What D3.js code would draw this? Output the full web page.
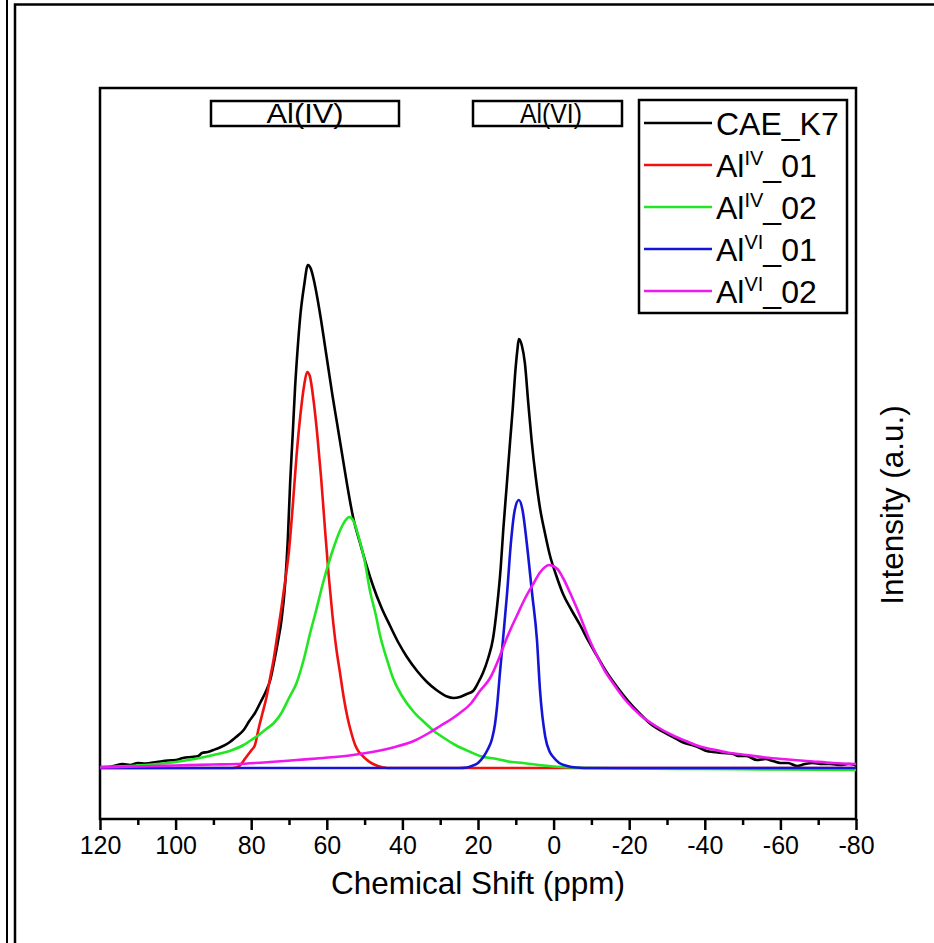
<!DOCTYPE html>
<html>
<head>
<meta charset="utf-8">
<script src="https://cdn.jsdelivr.net/npm/d3@7"></script>
<style>
  html, body { margin: 0; padding: 0; background: #fff; }
  svg { display: block; }
  text { font-family: "Liberation Sans", Arial, sans-serif; fill: #000; }
</style>
</head>
<body>
<svg id="chart" width="934" height="943"></svg>
<script>
// ---------------- DATA (ppm, intensity a.u.) ----------------
const xTicksMajor = [120, 100, 80, 60, 40, 20, 0, -20, -40, -60, -80];
const xTicksMinor = [110, 90, 70, 50, 30, 10, -10, -30, -50, -70];

const seriesNames = ["CAE_K7", "Al^IV_01", "Al^IV_02", "Al^VI_01", "Al^VI_02"];
const seriesColors = ["#000000", "#f01010", "#22e622", "#1414d8", "#ee18ee"];

const caeK7 = [
  [120,0.2],[117,0.3],[114,0.8],[112,0.6],[110,1.0],[108,0.9],[105,1.2],[102,1.5],[100,1.6],
  [98,2.0],[96,2.2],[94,2.4],[93,3.0],[91.5,3.2],[90,3.6],[88,4.2],[86,5.0],[84,6.2],[82,7.6],
  [80.5,9.4],[79,11],[77.5,13.2],[76,15.5],[75,17.5],[74,21],[73,25],[72,29.5],[71,37],
  [70.3,46],[69.7,57],[69,67],[68.4,76],[67.7,84],[67,90.5],[66,96.5],[65,100.6],[64.2,99.8],
  [63.4,97.5],[62.5,94],[61.5,89.5],[60.5,84.5],[59.5,79.5],[58.5,74.5],[57.3,69],[56,63],
  [54.7,57],[53,50],[51.2,45],[49.5,40.5],[47.8,36.5],[45.5,32],[43.3,28.5],[41,25],
  [38.8,22.2],[36,19.3],[33.5,17.2],[31,15.6],[28.2,14.3],[26.5,14],[24.8,14.2],[23,14.8],
  [21.3,15.4],[20,17],[18.7,19],[17.3,22],[16,26],[15,32],[14,40],[13.3,47.8],[12.4,56.5],
  [11.5,65.4],[10.8,72],[10.2,78.6],[9.6,83.5],[9.2,85.8],[8.4,84.5],[7.6,81],[6.7,73],
  [5.8,65.4],[4.7,58],[3.6,52],[2.3,47],[1,42.6],[-0.7,38.5],[-2.5,34.8],[-4.8,31.5],[-7,28.6],
  [-9.2,25.4],[-11.5,22.4],[-14,19.2],[-16.8,16.2],[-19.5,13.6],[-22.9,10.8],[-26,8.6],
  [-28.5,7.4],[-31.6,6.2],[-34,5.2],[-36.5,4.6],[-38.7,4.0],[-40.5,3.4],[-42.2,3.2],
  [-45,3.0],[-47.5,2.8],[-49,2.4],[-51,2.4],[-53.8,1.6],[-56,1.8],[-58,1.4],[-60,1.0],
  [-62,1.0],[-64.4,0.4],[-66.5,0.8],[-68.6,1.0],[-71,0.8],[-73.1,0.8],[-76,0.6],[-78,0.8],[-80,0.6]
];

const alIV01 = [
  [120,0],[100,0],[90,0],[85,0],[84,0.1],[83,0.5],[81.5,2],[80,3.5],[79,4.6],[78,8],[77,11],
  [76,14],[75,18],[74,22],[73,27],[72,32],[71,37.5],[70,43.5],[69,52.5],[68,62.5],[67,70.5],
  [66,76.5],[65.2,79.2],[64.5,78.4],[63.5,73.5],[62.5,66.5],[61.5,58],[60.5,48],[59.5,38.5],
  [58.5,30.5],[57.5,24],[56.5,19],[55.5,14],[54.5,10],[53.5,7],[52.5,4.6],[51.5,3.2],
  [50.5,2.4],[49.5,1.7],[48,0.9],[46.5,0.4],[45,0.1],[44,0],[20,0],[0,0],[-40,0],[-80,0]
];

const alIV02 = [
  [120,0.2],[110,0.5],[100,1.2],[95,1.8],[90,2.6],[85,3.6],[82,4.6],[80,5.6],[78,6.6],
  [76,7.8],[74,9],[72,11],[70,14],[68,17],[66,22],[64.4,27],[63,31],[61,37],[59.5,41],
  [58,44.5],[56.5,47.5],[55,49.6],[54.1,50.2],[53,49.5],[51.5,46],[50,41.5],[48.6,35.5],
  [47,30.5],[45.9,26.5],[44,21.5],[42.5,18],[40,14.3],[37,11.2],[34,9],[32,7.6],[29,6],
  [26,4.6],[22,3.2],[19.5,2.4],[15,1.8],[12,1.3],[8,1.0],[4,0.6],[0,0.3],[-5,0.1],[-10,0],
  [-20,-0.1],[-40,-0.2],[-60,-0.3],[-80,-0.4]
];

const alVI01 = [
  [120,0],[80,0],[40,0],[25,0],[23,0.1],[22,0.3],[20,1],[18.6,2.2],[17.5,3.6],[16.3,5.8],
  [15.5,8.8],[15,12],[14.2,19],[13.4,25.6],[12.3,35],[11.3,45],[10.3,51.5],[9.2,53.6],
  [8.2,51.5],[7.1,45],[5.7,35],[4.4,25.6],[3.6,15.6],[2.2,6.2],[1,3.2],[0.1,2.2],
  [-1.5,1.0],[-3.6,0.4],[-6,0.1],[-10,0],[-40,0],[-80,0]
];

const alVI02 = [
  [120,0.1],[110,0.3],[100,0.5],[90,0.7],[84,0.8],[75,1.2],[68,1.6],[61,2],[54,2.5],[48,3.2],
  [42,4.2],[37,5.4],[33,7],[30,8.4],[27,9.8],[24.8,11],[22,12.8],[19.5,15.4],[16.8,18],
  [14.2,22.4],[12.9,25],[11,28.4],[9.7,30.5],[7.5,34],[5.4,36.8],[3.5,39.2],[1.2,40.6],
  [-1,39.8],[-2.5,38],[-4.5,34.8],[-7,30.4],[-9,26.5],[-11.5,22.4],[-13.5,19.5],[-15.7,17],
  [-19,13.6],[-22.9,10.6],[-27,8.4],[-31.6,6.5],[-35,5.4],[-38.7,4.3],[-42.2,3.7],[-46,3.1],
  [-51,2.6],[-56,2.1],[-62,1.7],[-68.6,1.3],[-74,1.0],[-80,0.8]
];

const allSeries = [caeK7, alIV01, alIV02, alVI01, alVI02];

// --------------- DRAWING ---------------
const svg = d3.select("#chart");

// outer figure frame (double left rule + top rule)
svg.append("line").attr("x1", 7).attr("y1", 0).attr("x2", 7).attr("y2", 943)
  .attr("stroke", "#000").attr("stroke-width", 2);
svg.append("path").attr("d", "M15,943 L15,4.5 L934,4.5")
  .attr("fill", "none").attr("stroke", "#000").attr("stroke-width", 2.5);

const plot = { left: 100, right: 856, top: 88, bottom: 819 };

const x = d3.scaleLinear().domain([120, -80]).range([plot.left, plot.right]);
const y = d3.scaleLinear().domain([-10.2, 136]).range([plot.bottom, plot.top]);

// plot frame
svg.append("rect")
  .attr("x", plot.left).attr("y", plot.top)
  .attr("width", plot.right - plot.left).attr("height", plot.bottom - plot.top)
  .attr("fill", "none").attr("stroke", "#000").attr("stroke-width", 2.5);

// minor ticks
const minorAxis = d3.axisBottom(x).tickValues(xTicksMinor).tickSize(6).tickFormat("");
svg.append("g").attr("transform", `translate(0,${plot.bottom})`).call(minorAxis)
  .call(g => g.select(".domain").remove())
  .call(g => g.selectAll(".tick line").attr("stroke", "#000").attr("stroke-width", 2.5));

// major ticks
const majorAxis = d3.axisBottom(x).tickValues(xTicksMajor).tickSize(11).tickPadding(6)
  .tickFormat(d => String(d));
svg.append("g").attr("transform", `translate(0,${plot.bottom})`).call(majorAxis)
  .call(g => g.select(".domain").remove())
  .call(g => g.selectAll(".tick line").attr("stroke", "#000").attr("stroke-width", 2.5))
  .call(g => g.selectAll(".tick text")
    .attr("font-family", "'Liberation Sans', Arial, sans-serif")
    .attr("font-size", 25).attr("fill", "#000"));

// axis titles
svg.append("text").attr("x", 478).attr("y", 894).attr("text-anchor", "middle")
  .attr("font-size", 31.5).text("Chemical Shift (ppm)");
svg.append("text").attr("transform", "translate(903,505) rotate(-90)")
  .attr("text-anchor", "middle").attr("font-size", 31.5).text("Intensity (a.u.)");

// curves
const line = d3.line().x(d => x(d[0])).y(d => y(d[1])).curve(d3.curveMonotoneX);
svg.append("clipPath").attr("id", "clip").append("rect")
  .attr("x", plot.left).attr("y", plot.top)
  .attr("width", plot.right - plot.left).attr("height", plot.bottom - plot.top);
const gLines = svg.append("g").attr("clip-path", "url(#clip)");
allSeries.forEach((s, i) => {
  gLines.append("path").datum(s).attr("d", line)
    .attr("fill", "none").attr("stroke", seriesColors[i])
    .attr("stroke-width", 2.6).attr("stroke-linejoin", "round");
});

// region labels
const regionBoxes = [
  { label: "Al(IV)", x0: 211, x1: 399, tx: 305, tl: 77 },
  { label: "Al(VI)", x0: 473, x1: 622, tx: 551, tl: 62 }
];
regionBoxes.forEach(b => {
  svg.append("rect").attr("x", b.x0).attr("y", 101).attr("width", b.x1 - b.x0).attr("height", 25)
    .attr("fill", "#fff").attr("stroke", "#000").attr("stroke-width", 2.5);
  svg.append("text").attr("x", b.tx).attr("y", 123).attr("text-anchor", "middle")
    .attr("font-size", 27).attr("textLength", b.tl).attr("lengthAdjust", "spacingAndGlyphs")
    .text(b.label);
});

// legend
svg.append("rect").attr("x", 639).attr("y", 100).attr("width", 208).attr("height", 213)
  .attr("fill", "#fff").attr("stroke", "#000").attr("stroke-width", 2.5);
seriesNames.forEach((name, i) => {
  const cy = 123 + i * 42;
  svg.append("line").attr("x1", 644).attr("x2", 712).attr("y1", cy).attr("y2", cy)
    .attr("stroke", seriesColors[i]).attr("stroke-width", 2.6);
  const t = svg.append("text").attr("x", 716).attr("y", cy + 11.5).attr("font-size", 32);
  if (name.includes("^")) {
    const [base, rest] = name.split("^");
    const sup = rest.split("_")[0];
    const tail = "_" + rest.split("_")[1];
    t.append("tspan").text(base);
    t.append("tspan").attr("font-size", 20).attr("dy", -12).text(sup);
    t.append("tspan").attr("dy", 12).text(tail);
  } else {
    t.text(name);
  }
});
</script>
</body>
</html>
